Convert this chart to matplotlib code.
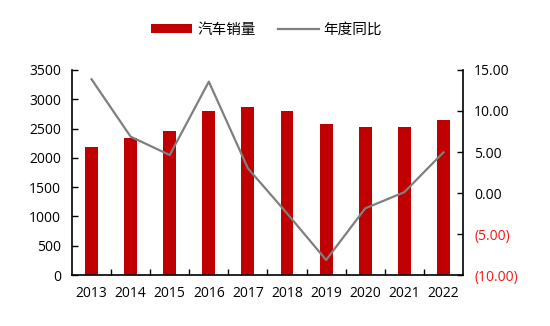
import numpy as np
import matplotlib.pyplot as plt
from matplotlib.ticker import FuncFormatter, FixedLocator

plt.rcParams['font.family'] = ['Open Sans', 'Noto Sans CJK SC', 'DejaVu Sans']

years = ["2013", "2014", "2015", "2016", "2017", "2018", "2019", "2020", "2021", "2022"]
sales = [2190, 2338, 2452, 2794, 2873, 2799, 2572, 2526, 2528, 2652]
yoy = [13.87, 6.87, 4.63, 13.58, 3.0, -2.48, -8.17, -1.87, 0.1, 4.96]

BAR = "#C00000"
LINE = "#7F7F7F"

fig = plt.figure(figsize=(5.5, 3.26), dpi=100)
ax = fig.add_axes([0.1309, 0.1564, 0.7109, 0.6289])
ax2 = ax.twinx()

x = np.arange(len(years))
ax.bar(x, sales, width=0.33, color=BAR, label="汽车销量", zorder=2)
ax2.plot(x, yoy, color=LINE, lw=1.6, label="年度同比", zorder=3)

ax.set_xlim(-0.5, len(years) - 0.5)
ax.set_ylim(0, 3500)
ax.set_yticks(range(0, 3501, 500))
ax2.set_ylim(-10, 15)
ax2.set_yticks(range(-10, 16, 5))

def fmt(v, pos):
    return f"({abs(v):.2f})" if v < 0 else f"{v:.2f}"
ax2.yaxis.set_major_formatter(FuncFormatter(fmt))

ax.set_xticks(x)
ax.set_xticklabels(years)
ax.xaxis.set_minor_locator(FixedLocator(np.arange(0.5, len(years) - 1, 1.0)))
ax.tick_params(axis="x", which="major", length=0, pad=8, labelsize=10)
ax.tick_params(axis="x", which="minor", direction="in", length=4, width=1)
ax.tick_params(axis="y", direction="in", length=4, width=1, labelsize=10, pad=8)
ax2.tick_params(axis="y", direction="in", length=4, width=1, labelsize=10, pad=8)
for t, v in zip(ax2.get_yticklabels(), ax2.get_yticks()):
    if v < 0:
        t.set_color("#F01818")

for a in (ax, ax2):
    a.spines["top"].set_visible(False)
    for s in ("left", "right", "bottom"):
        a.spines[s].set_linewidth(1.2)
ax.spines["right"].set_visible(False)
ax2.spines["left"].set_visible(False)
ax2.spines["bottom"].set_visible(False)

h1, l1 = ax.get_legend_handles_labels()
h2, l2 = ax2.get_legend_handles_labels()
fig.legend(h1 + h2, l1 + l2, loc="center", bbox_to_anchor=(0.485, 0.908),
           ncol=2, frameon=False, handlelength=2.8,
           handleheight=0.6, columnspacing=1.5, handletextpad=0.35,
           prop={'family': ['Noto Sans CJK SC'], 'size': 10.5})

fig.savefig("out.png", dpi=100)
